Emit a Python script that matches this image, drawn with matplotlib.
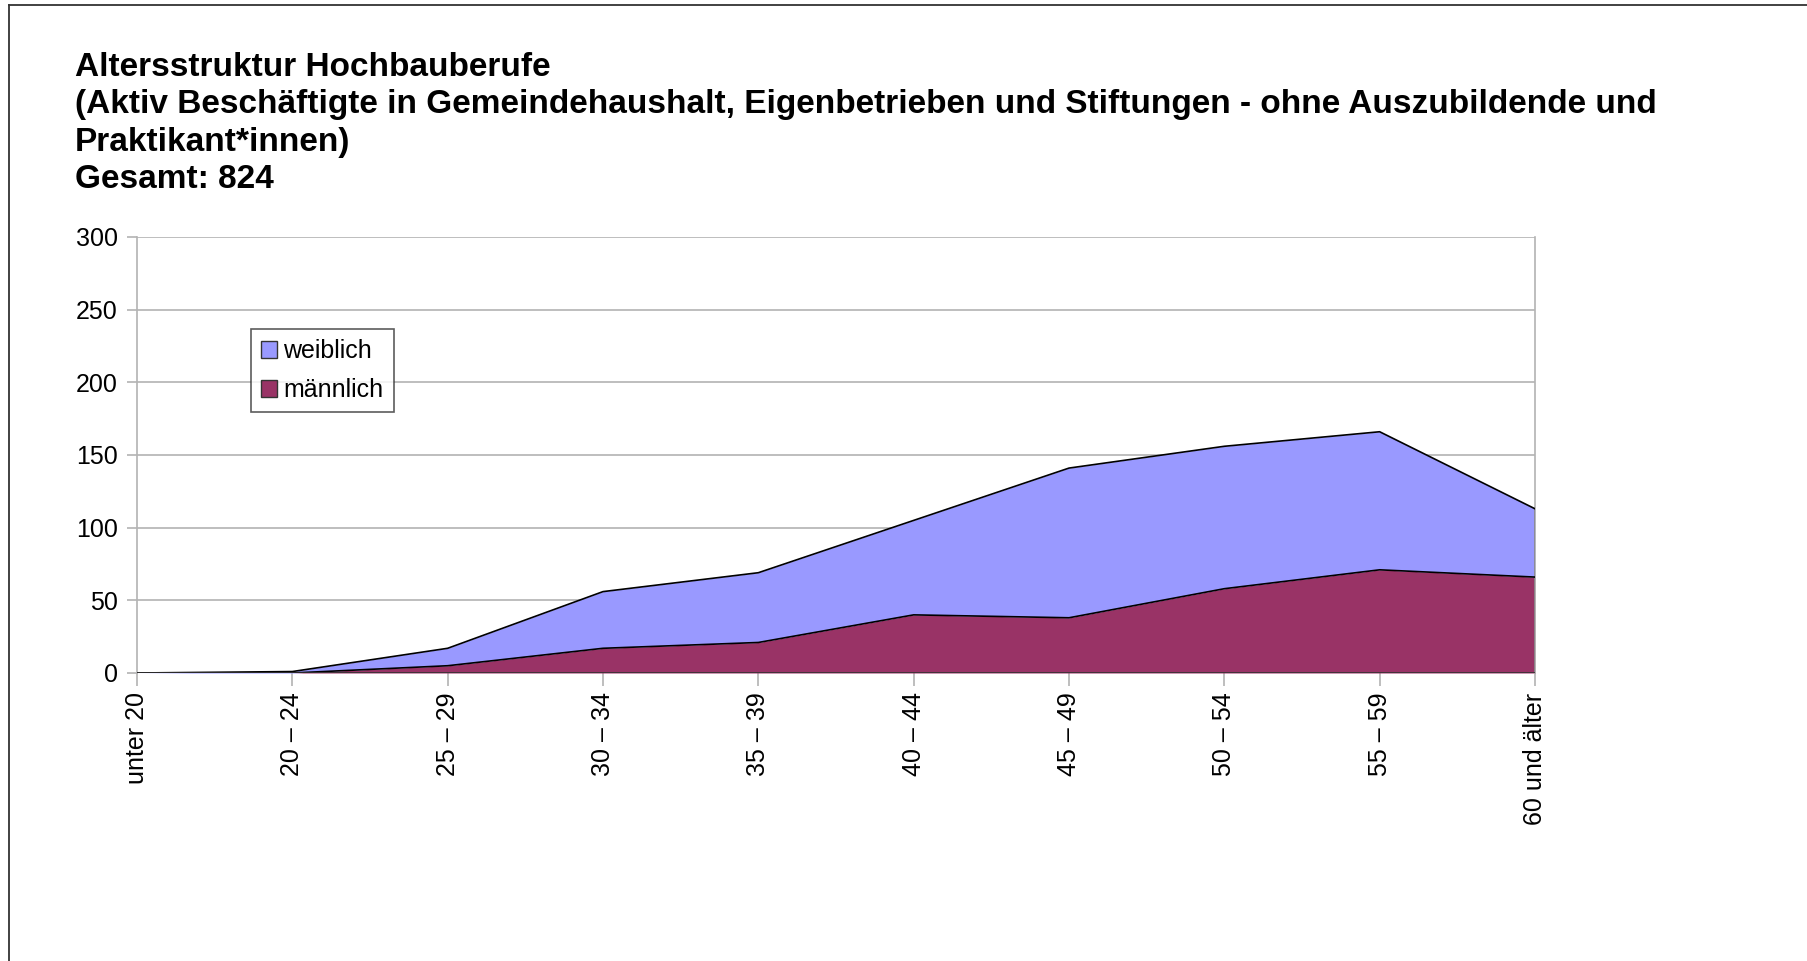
import matplotlib.pyplot as plt
import numpy as np
from matplotlib.patches import Patch
from matplotlib.lines import Line2D

plt.rcParams['font.family'] = ['Liberation Sans', 'DejaVu Sans']

# Daten
altersgruppen = ["unter 20", "20 – 24", "25 – 29", "30 – 34", "35 – 39",
                 "40 – 44", "45 – 49", "50 – 54", "55 – 59", "60 und älter"]
maennlich = [0, 0, 5, 17, 21, 40, 38, 58, 71, 66]
weiblich = [0, 1, 12, 39, 48, 65, 103, 98, 95, 47]

farbe_w = "#9999ff"
farbe_m = "#993366"
grau = "#b3b3b3"

fig = plt.figure(figsize=(18.07, 9.61), dpi=100)

# Rahmen (nur oben und links sichtbar)
fig.add_artist(Line2D([9/1807, 1.0], [1-4.5/961, 1-4.5/961], color="#333333", lw=1.3))
fig.add_artist(Line2D([9/1807, 9/1807], [0, 1-4.5/961], color="#333333", lw=1.3))

titel = ("Altersstruktur Hochbauberufe\n"
         "(Aktiv Beschäftigte in Gemeindehaushalt, Eigenbetrieben und Stiftungen - ohne Auszubildende und\n"
         "Praktikant*innen)\n"
         "Gesamt: 824")
fig.text(75/1807, 1-52/961, titel, fontsize=24, fontweight="bold", va="top", ha="left",
         linespacing=1.27)

ax = fig.add_axes([137/1807, 1-673/961, (1535-137)/1807, (673-237)/961])

x = np.arange(len(altersgruppen))
m = np.array(maennlich)
w = np.array(weiblich)
ax.fill_between(x, 0, m, color=farbe_m, lw=0, zorder=2)
ax.fill_between(x, m, m + w, color=farbe_w, lw=0, zorder=2)
ax.plot(x, m, color="black", lw=1.2, zorder=3)
ax.plot(x, m + w, color="black", lw=1.2, zorder=3)
ax.plot(x[-1:].repeat(2), [0, m[-1] + w[-1]], color="black", lw=1.0, zorder=3)

ax.set_xlim(0, len(altersgruppen) - 1)
ax.set_ylim(0, 300)
ax.set_yticks(np.arange(0, 301, 50))
ax.set_xticks(x)
ax.set_xticklabels(altersgruppen, rotation=90, va="top", ha="center")
ax.grid(axis="y", color=grau, lw=1.2, zorder=0)
for s in ["top", "bottom"]:
    ax.spines[s].set_visible(False)
ax.spines["left"].set_color(grau)
ax.spines["right"].set_color(grau)
ax.spines["left"].set_linewidth(1.2)
ax.spines["right"].set_linewidth(1.2)
ax.axhline(0, color="#333333", lw=1.2, zorder=4)
ax.tick_params(axis="x", length=9, width=1.2, color=grau, pad=5, labelsize=18)
ax.tick_params(axis="y", length=7, width=1.2, color=grau, pad=7, labelsize=18)

handles = [Patch(facecolor=farbe_w, edgecolor="#333333", label="weiblich"),
           Patch(facecolor=farbe_m, edgecolor="#333333", label="männlich")]
leg = ax.legend(handles=handles, loc="upper left", bbox_to_anchor=((251-137)/1398, (673-329)/436),
                fontsize=18, frameon=True, fancybox=False, edgecolor="#333333",
                handlelength=0.65, handleheight=0.65, handletextpad=0.25, borderpad=0.4,
                labelspacing=0.6, borderaxespad=0)
leg.get_frame().set_linewidth(1.2)

fig.savefig("out.png", dpi=100, facecolor="white")
